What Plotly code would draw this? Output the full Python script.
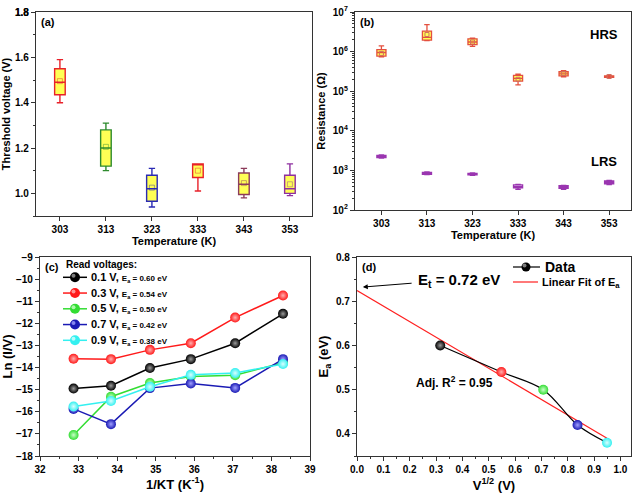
import numpy as np
import plotly.graph_objects as go

W, H = 636, 496

# ---------------- data ----------------
temps = [303, 313, 323, 333, 343, 353]
temp_labels = ["303", "313", "323", "333", "343", "353"]

# (a) threshold voltage box statistics
vth_low = [1.40, 1.10, 0.94, 1.01, 0.98, 0.99]
vth_q1 = [1.435, 1.12, 0.965, 1.07, 0.995, 1.00]
vth_med = [1.49, 1.20, 1.02, 1.13, 1.04, 1.02]
vth_q3 = [1.55, 1.28, 1.08, 1.13, 1.09, 1.08]
vth_high = [1.59, 1.31, 1.11, 1.13, 1.11, 1.13]
vth_mean = [1.495, 1.205, 1.025, 1.10, 1.045, 1.04]
vth_colors = ["#e8212a", "#2e8b2e", "#2a2ab4", "#e8212a", "#8c3b5a", "#8e2fa0"]
vth_ticks = [1.0, 1.2, 1.4, 1.6, 1.8]
vth_ticklabels = ["1.0", "1.2", "1.4", "1.6", "1.8"]

# (b) HRS / LRS resistance box statistics (ohm)
hrs_low = [7.4e5, 1.9e6, 1.35e6, 1.45e5, 2.3e5, 2.2e5]
hrs_q1 = [7.7e5, 1.95e6, 1.5e6, 1.8e5, 2.45e5, 2.25e5]
hrs_med = [9.5e5, 2.3e6, 1.75e6, 2.1e5, 2.75e5, 2.35e5]
hrs_q3 = [1.12e6, 3.3e6, 2.1e6, 2.5e5, 3.1e5, 2.45e5]
hrs_high = [1.4e6, 4.8e6, 2.2e6, 2.7e5, 3.3e5, 2.5e5]
hrs_mean = [9.0e5, 2.7e6, 1.75e6, 2.0e5, 2.8e5, 2.35e5]

lrs_low = [2.05e3, 7.8e2, 7.5e2, 3.3e2, 3.3e2, 4.4e2]
lrs_q1 = [2.1e3, 8.0e2, 7.7e2, 3.6e2, 3.5e2, 4.6e2]
lrs_med = [2.25e3, 8.4e2, 8.0e2, 3.9e2, 3.8e2, 5.0e2]
lrs_q3 = [2.4e3, 8.9e2, 8.4e2, 4.3e2, 4.1e2, 5.4e2]
lrs_high = [2.45e3, 9.2e2, 8.6e2, 4.4e2, 4.2e2, 5.6e2]

res_tickvals = [1e2, 1e3, 1e4, 1e5, 1e6, 1e7]
res_ticktext = ["10<sup>2</sup>", "10<sup>3</sup>", "10<sup>4</sup>",
                "10<sup>5</sup>", "10<sup>6</sup>", "10<sup>7</sup>"]

# (c) Arrhenius plot
inv_kt = [32.87, 33.84, 34.85, 35.91, 37.06, 38.30]
ln_01 = [-14.95, -14.82, -14.02, -13.62, -12.90, -11.57]
ln_03 = [-13.60, -13.62, -13.20, -12.90, -11.74, -10.74]
ln_05 = [-17.05, -15.32, -14.70, -14.40, -14.35, -13.78]
ln_07 = [-15.87, -16.56, -14.93, -14.72, -14.92, -13.62]
ln_09 = [-15.76, -15.51, -14.87, -14.33, -14.25, -13.84]
read_v = ["0.1 V", "0.3 V", "0.5 V", "0.7 V", "0.9 V"]
ea_text = ["0.60", "0.54", "0.50", "0.42", "0.38"]
c_colors = ["#000000", "#ff1a1a", "#33dd33", "#1a1ab4", "#33f0f0"]
c_grad = ["#9a9a9a", "#ffb0b0", "#c8ffc8", "#a0a0ff", "#d8ffff"]

# (d) activation energy vs sqrt(V)
sqrt_v = [0.316, 0.548, 0.707, 0.837, 0.949]
ea = [0.60, 0.54, 0.50, 0.42, 0.38]
d_xticks = [0.0, 0.1, 0.2, 0.3, 0.4, 0.5, 0.6, 0.7, 0.8, 0.9, 1.0]
d_xlabels = ["0.0", "0.1", "0.2", "0.3", "0.4", "0.5", "0.6", "0.7", "0.8", "0.9", "1.0"]
d_yticks = [0.4, 0.5, 0.6, 0.7, 0.8]
d_ylabels = ["0.4", "0.5", "0.6", "0.7", "0.8"]

# ---------------- figure ----------------
FONT = "Liberation Sans"
AX = "#333333"

# panel pixel boxes: (left, right, top, bottom)
PA = (36, 312, 12, 216)
PB = (355, 631, 12, 210)
PC = (40, 310, 257, 456)
PD = (357, 631, 257, 456)

def dom_x(p):
    return [p[0] / W, p[1] / W]

def dom_y(p):
    return [1 - p[3] / H, 1 - p[2] / H]

def fx(p, px):
    return (px - p[0]) / (p[1] - p[0])

def fy(p, py):
    return (p[3] - py) / (p[3] - p[2])

fig = go.Figure()

# (a) boxes
for i, t in enumerate(temps):
    fig.add_trace(go.Box(
        x=[t], q1=[vth_q1[i]], median=[vth_med[i]], q3=[vth_q3[i]],
        lowerfence=[vth_low[i]], upperfence=[vth_high[i]],
        width=2.3, whiskerwidth=0.6, boxpoints=False,
        fillcolor="#ffff55", line=dict(color=vth_colors[i], width=1.4),
        xaxis="x", yaxis="y", showlegend=False, hoverinfo="skip"))
fig.add_trace(go.Scatter(
    x=temps, y=vth_mean, mode="markers",
    marker=dict(symbol="square-open", size=5, color=vth_colors, opacity=0.45,
                line=dict(width=1)),
    xaxis="x", yaxis="y", showlegend=False, hoverinfo="skip"))

# (b) boxes
for i, t in enumerate(temps):
    fig.add_trace(go.Box(
        x=[t], q1=[hrs_q1[i]], median=[hrs_med[i]], q3=[hrs_q3[i]],
        lowerfence=[hrs_low[i]], upperfence=[hrs_high[i]],
        width=2.0, whiskerwidth=0.6, boxpoints=False,
        fillcolor="#ffff55", line=dict(color="#e4503f", width=1.3),
        xaxis="x2", yaxis="y2", showlegend=False, hoverinfo="skip"))
    fig.add_trace(go.Box(
        x=[t], q1=[lrs_q1[i]], median=[lrs_med[i]], q3=[lrs_q3[i]],
        lowerfence=[lrs_low[i]], upperfence=[lrs_high[i]],
        width=2.0, whiskerwidth=0.6, boxpoints=False,
        fillcolor="#e6c8f0", line=dict(color="#9a35b0", width=1.3),
        xaxis="x2", yaxis="y2", showlegend=False, hoverinfo="skip"))
fig.add_trace(go.Scatter(
    x=temps, y=hrs_mean, mode="markers",
    marker=dict(symbol="square-open", size=4, color="#d07060", line=dict(width=1)),
    xaxis="x2", yaxis="y2", showlegend=False, hoverinfo="skip"))

# (c) lines
c_series = [ln_01, ln_03, ln_05, ln_07, ln_09]
for i, ys in enumerate(c_series):
    fig.add_trace(go.Scatter(
        x=inv_kt, y=ys, mode="lines+markers",
        line=dict(color=c_colors[i], width=1.5),
        marker=dict(size=10, color=c_colors[i], line=dict(width=0),
                    gradient=dict(type="radial", color=c_grad[i])),
        xaxis="x3", yaxis="y3", showlegend=False, hoverinfo="skip"))

# (d) fit + data
slope, intercept = np.polyfit(sqrt_v, ea, 1)
fit_x = np.array([0.0, max(sqrt_v)])
fig.add_trace(go.Scatter(
    x=fit_x, y=intercept + slope * fit_x, mode="lines",
    line=dict(color="#ff2020", width=1.2),
    xaxis="x4", yaxis="y4", showlegend=False, hoverinfo="skip"))
fig.add_trace(go.Scatter(
    x=sqrt_v, y=ea, mode="lines+markers",
    line=dict(color="#000000", width=1.2, shape="spline", smoothing=1.0),
    marker=dict(size=10, color=c_colors, line=dict(width=0),
                gradient=dict(type="radial", color=c_grad)),
    xaxis="x4", yaxis="y4", showlegend=False, hoverinfo="skip"))

tickfont = dict(family=FONT, size=10, color="black", weight="bold")

def axis(**kw):
    base = dict(showline=True, linecolor=AX, linewidth=1.3, mirror=True,
                ticks="outside", ticklen=4, tickwidth=1.2, tickcolor=AX,
                showgrid=False, zeroline=False, tickfont=tickfont,
                automargin=False, ticklabeloverflow="allow")
    base.update(kw)
    return base

def title(text, size=11, standoff=4):
    return dict(text=text, font=dict(family=FONT, size=size, color="black", weight="bold"),
                standoff=standoff)

minor_small = dict(ticks="outside", ticklen=2, tickwidth=1, tickcolor=AX)
log_minor = [k * 10 ** n for n in range(2, 7) for k in range(2, 10)]

fig.update_layout(
    width=W, height=H,
    margin=dict(l=0, r=0, t=0, b=0, autoexpand=False),
    paper_bgcolor="white", plot_bgcolor="white",
    font=dict(family=FONT, color="black"),
    boxmode="overlay",
    showlegend=False,
    xaxis=axis(domain=dom_x(PA), range=[297.8, 357.8],
               tickvals=temps, ticktext=temp_labels, anchor="y",
               title=title("Temperature (K)", 11, 2)),
    yaxis=axis(domain=dom_y(PA), range=[0.9, 1.8001],
               tickvals=vth_ticks, ticktext=vth_ticklabels, anchor="x",
               minor=dict(dtick=0.1, tick0=0.9, **minor_small),
               title=title("Threshold voltage (V)", 11, 4)),
    xaxis2=axis(domain=dom_x(PB), range=[297.2, 357.8],
                tickvals=temps, ticktext=temp_labels, anchor="y2",
                title=title("Temperature (K)", 11, 2)),
    yaxis2=axis(domain=dom_y(PB), type="log", range=[2, 7],
                tickvals=res_tickvals, ticktext=res_ticktext, anchor="x2",
                minor=dict(tickvals=log_minor, **minor_small),
                title=title("Resistance (Ω)", 11, 4)),
    xaxis3=axis(domain=dom_x(PC), range=[32, 39], dtick=1, anchor="y3",
                minor=dict(dtick=0.5, **minor_small),
                title=title("1/KT (K<sup>-1</sup>)", 13, 1)),
    yaxis3=axis(domain=dom_y(PC), range=[-18, -9], dtick=1, anchor="x3",
                minor=dict(dtick=0.5, **minor_small),
                title=title("Ln (I/V)", 13, 4)),
    xaxis4=axis(domain=dom_x(PD), range=[0, 1.04],
                tickvals=d_xticks, ticktext=d_xlabels, anchor="y4",
                minor=dict(dtick=0.05, **minor_small),
                title=title("V<sup>1/2</sup> (V)", 13, 6)),
    yaxis4=axis(domain=dom_y(PD), range=[0.35, 0.8],
                tickvals=d_yticks, ticktext=d_ylabels, anchor="x4",
                minor=dict(dtick=0.05, tick0=0.35, **minor_small),
                title=title("E<sub>a</sub> (eV)", 13, 4)),
)

bold = lambda s, c="black": dict(family=FONT, size=s, color=c, weight="bold")
annotations = []
shapes = []
for lbl, ax_ in [("(a)", "x"), ("(b)", "x2"), ("(c)", "x3"), ("(d)", "x4")]:
    yname = "y" + ax_[1:]
    annotations.append(dict(text=lbl, xref=f"{ax_} domain", yref=f"{yname} domain",
                            x=0.01, y=0.99, xanchor="left", yanchor="top",
                            showarrow=False, font=bold(11)))
annotations += [
    # top tick label of panel (a), which the axis does not draw at the range edge
    dict(text=vth_ticklabels[-1], xref="x domain", yref="y", x=0, y=vth_ticks[-1],
         xanchor="right", yanchor="middle", xshift=-5, showarrow=False,
         font=bold(10)),
    dict(text="HRS", xref="x2 domain", yref="y2 domain", x=0.96, y=0.885,
         xanchor="right", yanchor="middle", showarrow=False, font=bold(13)),
    dict(text="LRS", xref="x2 domain", yref="y2 domain", x=0.955, y=0.245,
         xanchor="right", yanchor="middle", showarrow=False, font=bold(13)),
    dict(text="E<sub>t</sub> = 0.72 eV", xref="x4", yref="y4", x=0.225, y=0.747,
         xanchor="left", yanchor="middle", showarrow=False, font=bold(15)),
    dict(text="", xref="x4", yref="y4", x=0.022, y=0.732,
         axref="x4", ayref="y4", ax=0.213, ay=0.741,
         showarrow=True, arrowhead=2, arrowsize=1, arrowwidth=1, arrowcolor="black"),
    dict(text="Adj. R<sup>2</sup> = 0.95", xref="x4", yref="y4", x=0.371, y=0.518,
         xanchor="center", yanchor="middle", showarrow=False, font=bold(12)),
]

# ---- legend glyphs drawn as shapes + text ----
def legend_ball(xr, yr, p, cx, cy, color, hl, r=5):
    shapes.append(dict(type="circle", xref=xr, yref=yr, xsizemode="pixel", ysizemode="pixel",
                       xanchor=fx(p, cx), yanchor=fy(p, cy), x0=-r, x1=r, y0=-r, y1=r,
                       fillcolor=color, line=dict(width=0)))
    shapes.append(dict(type="circle", xref=xr, yref=yr, xsizemode="pixel", ysizemode="pixel",
                       xanchor=fx(p, cx), yanchor=fy(p, cy), x0=-3.5, x1=0.5, y0=-0.5, y1=3.5,
                       fillcolor=hl, opacity=0.8, line=dict(width=0)))

def legend_line(xr, yr, p, x0, x1, y, color, w=1.5):
    shapes.append(dict(type="line", xref=xr, yref=yr, x0=fx(p, x0), x1=fx(p, x1),
                       y0=fy(p, y), y1=fy(p, y), line=dict(color=color, width=w)))

annotations.append(dict(text="Read voltages:", xref="x3 domain", yref="y3 domain",
                        x=fx(PC, 64), y=fy(PC, 264), xanchor="left", yanchor="middle",
                        showarrow=False, font=bold(10)))
leg_top, leg_step = 277.3, 15.75
for i in range(5):
    yy = leg_top + i * leg_step
    legend_line("x3 domain", "y3 domain", PC, 63, 87, yy, c_colors[i])
    legend_ball("x3 domain", "y3 domain", PC, 75, yy, c_colors[i], c_grad[i])
    annotations.append(dict(
        text=f"{read_v[i]}, <span style='font-size:8px'>E<sub>a</sub> = {ea_text[i]} eV</span>",
        xref="x3 domain", yref="y3 domain", x=fx(PC, 89), y=fy(PC, yy),
        xanchor="left", yanchor="middle", showarrow=False, font=bold(11)))

legend_line("x4 domain", "y4 domain", PD, 513, 540, 267, "#000000", 1.2)
legend_ball("x4 domain", "y4 domain", PD, 526, 267, "#000000", "#9a9a9a", 4.5)
annotations.append(dict(text="Data", xref="x4 domain", yref="y4 domain",
                        x=fx(PD, 543), y=fy(PD, 267), xanchor="left", yanchor="middle",
                        showarrow=False, font=bold(14)))
legend_line("x4 domain", "y4 domain", PD, 513, 538, 282, "#ff2020", 1.2)
annotations.append(dict(text="Linear Fit of E<sub>a</sub>", xref="x4 domain", yref="y4 domain",
                        x=fx(PD, 540), y=fy(PD, 283), xanchor="left", yanchor="middle",
                        showarrow=False, font=bold(11)))

fig.update_layout(annotations=annotations, shapes=shapes)

# remove the browser's default 8px page margin so the figure fills the window
fig.write_html("out.html", config={"displayModeBar": False},
               post_script="document.body.style.margin='0px';")
